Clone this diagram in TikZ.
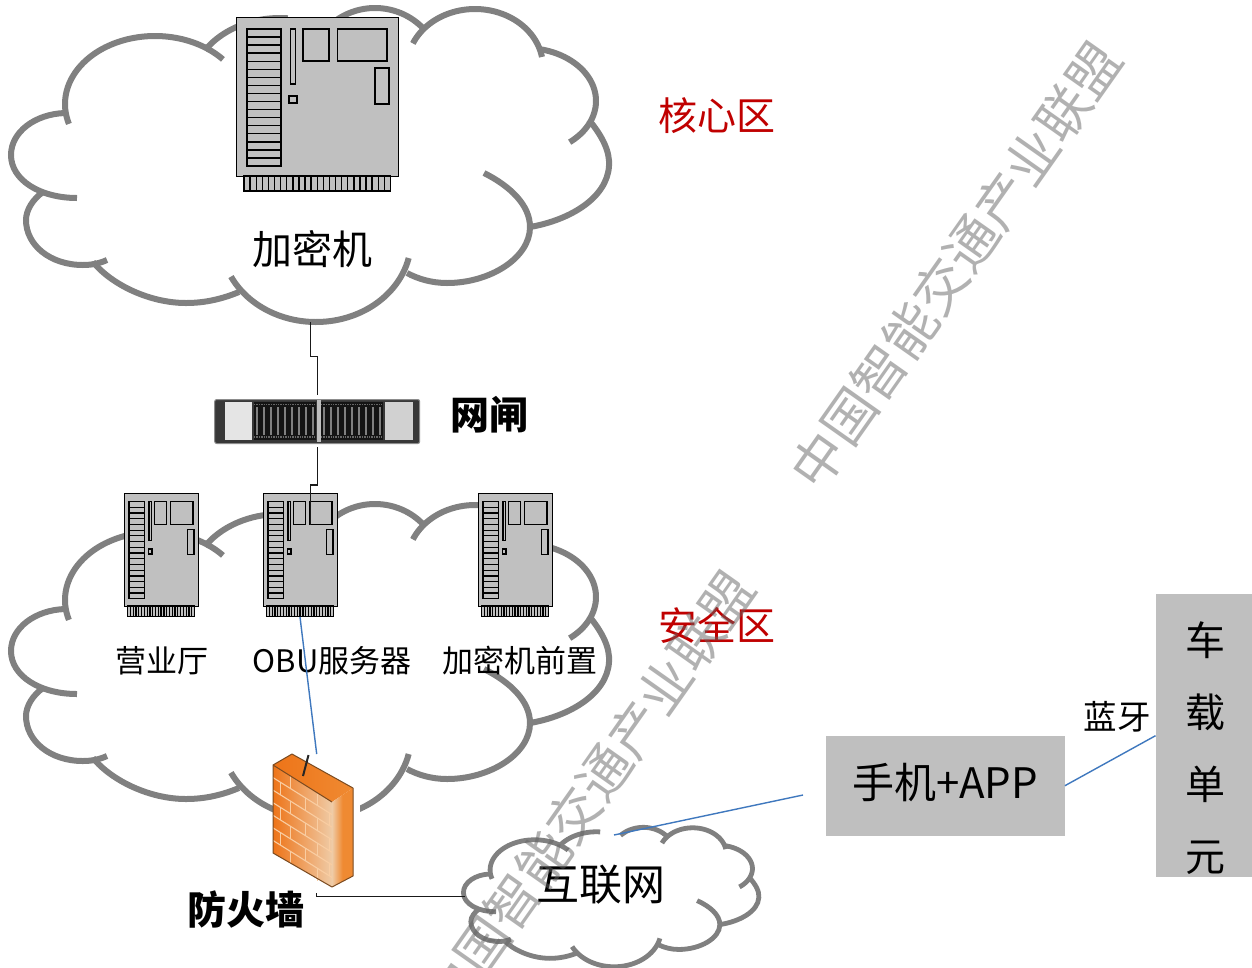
\documentclass[tikz,border=0pt]{standalone}
\usepackage{fontspec}
\setmainfont{Noto Sans CJK SC}
\definecolor{cloudgray}{HTML}{808080}
\definecolor{boxgray}{HTML}{BFBFBF}
\definecolor{srvgray}{HTML}{C0C0C0}
\definecolor{linkblue}{HTML}{3F78BE}
\definecolor{zonered}{HTML}{C00000}
\definecolor{wmgray}{HTML}{656565}
\definecolor{brick}{HTML}{F9CDA2}
\definecolor{fwdark}{HTML}{EE7418}
\definecolor{fwcream}{HTML}{EFCBA6}
\definecolor{fwside}{HTML}{EF8A32}
\definecolor{fwedge}{HTML}{7A4A20}
\newcommand{\fs}[1]{\fontsize{#1}{#1}\selectfont}
\newcommand{\lobe}[6]{\draw plot[domain=#5:#6,samples=50,smooth] ({#1+#3*cos(\x)},{#2+#4*sin(\x)});}
\newcommand{\cloudpaths}{
  \lobe{155}{104}{90}{68}{163}{319}
  \lobe{280}{90}{90}{72}{213.6}{275}
  \lobe{375}{70}{65}{62}{225}{317.6}
  \lobe{475}{67}{68}{58}{204}{350}
  \lobe{525}{101}{71}{53}{283}{411}
  \draw (589,120) .. controls (603,137) and (610,152) .. (609,166) .. controls (607,198) and (570,220) .. (530,227);
  \draw (484,173) .. controls (510,186) and (530,205) .. (530,227) .. controls (530,258) and (490,283) .. (447,283) .. controls (432,283) and (418,279) .. (407,273);
  \lobe{316}{240}{95}{82}{12.7}{153.5}
  \draw (239,292) .. controls (222,299) and (205,303) .. (186,303) .. controls (150,303) and (112,285) .. (93,262);
  \draw (107,260) .. controls (98,264) and (90,265) .. (83,265) .. controls (50,265) and (26,245) .. (26,220) .. controls (26,210) and (33,199) .. (43,192);
  \draw (77,198) .. controls (40,198) and (11,180) .. (11,155) .. controls (11,132) and (35,114) .. (65,113);
}
\newcommand{\serverparts}{
  % local coordinates: big server, origin at the body's top-left corner
  \foreach \k in {0,...,16} \draw (11,12+\k*8.06) rectangle (45,12+\k*8.06+8.06);
  \draw (54.5,12) rectangle (59.5,67);
  \draw (53,79) rectangle (61,86);
  \draw (67,12) rectangle (93,44);
  \draw (101.5,12) rectangle (151,44);
  \draw (139,51) rectangle (153,87);
  \draw[fill=srvgray] (8,159) rectangle (154.5,174);
  \foreach \k in {1,...,23} \draw (8+\k*6.1,159) -- (8+\k*6.1,174);
}
\tikzset{
  cloudline/.style={draw=cloudgray},
  srvbody/.style={draw=black,fill=srvgray,anchor=north west,inner sep=0pt,line width=1.2pt},
  lbl/.style={inner sep=0pt,text=black},
  zone/.style={lbl,text=zonered,font=\fs{39}},
  graybox/.style={fill=boxgray,inner sep=0pt,anchor=north west},
  wire/.style={draw=black!90,line width=1.3pt},
  bluelink/.style={draw=linkblue,line width=1.4pt},
  wmark/.style={text=wmgray,text opacity=.5,font=\fs{53},rotate=54.8,inner sep=0pt},
}
\begin{document}
\begin{tikzpicture}[x=1pt,y=-1pt]
\useasboundingbox (0,0) rectangle (1252,967);
\clip (0,0) rectangle (1252,967);
\fill[white] (0,0) rectangle (1252,967);

% clouds
\begin{scope}[cloudline,line width=6pt] \cloudpaths \end{scope}
\begin{scope}[shift={(0,496)},cloudline,line width=6pt] \cloudpaths \end{scope}
\begin{scope}[shift={(458,823.8)},xscale=.494,yscale=.444,cloudline,line width=4.8pt] \cloudpaths \end{scope}

% big server
\node[srvbody,minimum width=162pt,minimum height=159pt] (hsm) at (236,17) {};
\begin{scope}[shift={(hsm.north west)},line width=1.4pt] \serverparts \end{scope}
% small servers
\node[srvbody,minimum width=74pt,minimum height=113pt] (hall) at (124,493) {};
\begin{scope}[shift={(hall.north west)},xscale=.457,yscale=.71,line width=1.25pt] \serverparts \end{scope}
\node[srvbody,minimum width=74pt,minimum height=113pt] (obu) at (263,493) {};
\begin{scope}[shift={(obu.north west)},xscale=.457,yscale=.71,line width=1.25pt] \serverparts \end{scope}
\node[srvbody,minimum width=74pt,minimum height=113pt] (front) at (478,493) {};
\begin{scope}[shift={(front.north west)},xscale=.457,yscale=.71,line width=1.25pt] \serverparts \end{scope}

% gateway
\node[draw=black!45,line width=1pt,fill=black!78,rounded corners=2pt,inner sep=0pt,anchor=north west,minimum width=205pt,minimum height=44pt] (gw) at (214.2,399) {};
\fill[black!10] (225,402) rectangle (252,440);
\fill[black!18] (385,402) rectangle (413,440);
\fill[black!92] (254,402) rectangle (316,440);
\fill[black!92] (321,402) rectangle (383,440);
\fill[black!25] (316.5,400) rectangle (320.5,442);
\foreach \i in {0,...,8} {
  \draw[black!50,line width=1.6pt] (257+\i*7,407) -- (257+\i*7,435);
  \draw[black!50,line width=1.6pt] (324+\i*7,407) -- (324+\i*7,435);
}
\draw[black!60,line width=1.4pt,densely dotted] (254,404.5) -- (316,404.5) (321,404.5) -- (383,404.5) (254,437) -- (316,437) (321,437) -- (383,437);

% firewall
\node[fill=white,inner sep=0pt,anchor=north west,minimum width=87pt,minimum height=139pt] (fw) at (273,754) {};
\shade[left color=fwdark,right color=fwcream] (273,765) -- (332,802) -- (332,887) -- (273,853) -- cycle;
\shade[left color=fwdark,right color=fwside] (273,765) -- (292,754) -- (353,788) -- (332,802) -- cycle;
\shade[left color=fwcream,right color=fwside,middle color=fwside] (332,802) -- (353,788) -- (353,876) -- (332,887) -- cycle;
\begin{scope}[shift={(273,765)},x={(59pt,-37pt)},y={(0pt,-88pt)},draw=brick,line width=1.1pt]
  \foreach \k in {1,...,6} \draw (0,\k/7) -- (1,\k/7);
  \foreach \u in {.3,.75} \foreach \k in {0,2,4,6} \draw (\u,\k/7) -- (\u,\k/7+1/7);
  \foreach \u in {.12,.55,.95} \foreach \k in {1,3,5} \draw (\u,\k/7) -- (\u,\k/7+1/7);
\end{scope}
\draw[draw=fwedge,line width=1pt,line join=round] (273,765) -- (292,754) -- (353,788) -- (353,876) -- (332,887) -- (273,853) -- cycle (273,765) -- (332,802);

% grey boxes
\node[graybox,minimum width=239pt,minimum height=100pt] (phone) at (825.5,735.5) {};
\node[graybox,minimum width=97pt,minimum height=283pt] (vehicle) at (1155.5,594) {};

% labels
\node[lbl,font=\fs{40}] (lhsm) at (312,249) {加密机};
\node[lbl,font=\fs{39}\bfseries] (lgw) at (489,415) {网闸};
\node[zone] (zcore) at (717,116) {核心区};
\node[zone] (zsafe) at (717,625) {安全区};
\node[lbl,font=\fs{31}] (lhall) at (162,661) {营业厅};
\node[lbl,font=\fs{31}] (lobu) at (332,661) {OBU服务器};
\node[lbl,font=\fs{31}] (lfront) at (520,661) {加密机前置};
\node[lbl,font=\fs{39}\bfseries] (lfw) at (246,910) {防火墙};
\node[lbl,font=\fs{43}] (lnet) at (601,885) {互联网};
\node[lbl,font=\fs{42}] (lphone) at (945,783) {手机+APP};
\node[lbl,font=\fs{33.5}] (lbt) at (1117,717) {蓝牙};
\node[lbl,font=\fontsize{40}{72}\selectfont,align=center] (lveh) at (1205,748.5) {车\\载\\单\\元};

% connector end points
\coordinate (cloudA) at (310.7,322);
\coordinate (jogA) at (310.7,356.7);
\coordinate (jogB) at (310.7,485);
\coordinate (obuIn) at (310.7,525);
\coordinate (obuOut) at (300,617);
\coordinate (cloudCw) at (464.5,896.7);
\coordinate (cloudCn) at (614,835);
\coordinate (phoneGap) at (803,795);
\coordinate (fwAntA) at (308.5,755);
\coordinate (fwAntB) at (303,776);

% connectors
\draw[wire,shorten >=4pt] (cloudA) -- (jogA) -| (gw.north);
\draw[wire,shorten <=3pt] (gw.south) |- (jogB) -- (obuIn);
\draw[wire] (fw.south) |- (cloudCw);
\draw[bluelink] (obuOut) -- (fw.north);
\draw[black!85,line width=2pt] (fwAntA) -- (fwAntB);
\draw[bluelink] (cloudCn) -- (phoneGap);
\draw[bluelink] (phone.east) -- (vehicle.west);

% watermarks
\node[wmark] (wm1) at (956,265) {中国智能交通产业联盟};
\node[wmark] (wm2) at (589,794) {中国智能交通产业联盟};
\end{tikzpicture}
\end{document}
